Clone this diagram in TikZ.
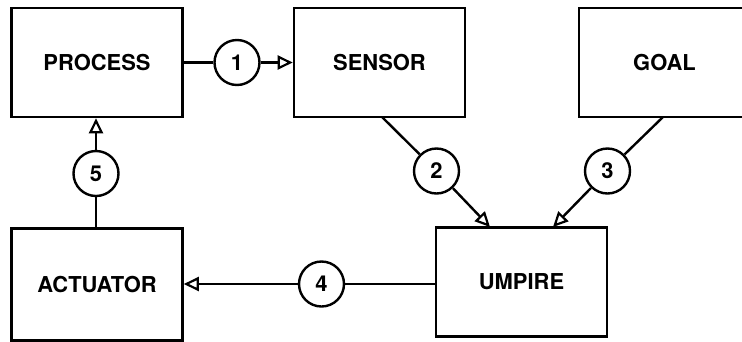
\documentclass[tikz,border=0pt]{standalone}
\usepackage{fontspec}
\setmainfont{TeX Gyre Heros}
\usetikzlibrary{arrows.meta}
\begin{document}
\begin{tikzpicture}[x=1bp,y=-1bp,
  box/.style={draw,line width=2.6bp,minimum width=171bp,minimum height=109bp,inner sep=0pt,font=\fontsize{22}{24}\selectfont\bfseries},
  num/.style={draw,circle,line width=2.4bp,minimum size=45bp,inner sep=0pt,fill=white,font=\fontsize{22}{24}\selectfont\bfseries},
  conn/.style={line width=2.4bp},
  arr/.style={conn,-{Triangle[open,length=15bp,width=14bp,line width=2.2bp]}}]
\useasboundingbox (0,0) rectangle (742,341);
\node[box] (proc) at (97,62.5) {PROCESS};
\node[box] (sens) at (379.5,62.5) {SENSOR};
\node[box] (goal) at (664.5,62.5) {GOAL};
\node[box,minimum height=112bp] (act) at (97,284.5) {ACTUATOR};
\node[box] (ump) at (521.5,282) {UMPIRE};
\node[num] (n1) at (237,62.5) {1};
\node[num] (n2) at (436.5,171) {2};
\node[num] (n3) at (607.5,171) {3};
\node[num] (n4) at (321.5,284) {4};
\node[num] (n5) at (96,173.5) {5};
\coordinate (s2) at (382,117);
\coordinate (g3) at (663,117);
\coordinate (u2) at (490,227);
\coordinate (u3) at (553,227);
\draw[conn] (proc.east |- n1) -- (n1);
\draw[arr] (n1) -- (sens.west |- n1);
\draw[conn] (s2) -- (n2);
\draw[arr] (n2) -- (u2);
\draw[conn] (g3) -- (n3);
\draw[arr] (n3) -- (u3);
\draw[conn] (ump.west |- n4) -- (n4);
\draw[arr] (n4) -- (act.east |- n4);
\draw[conn] (act.north -| n5) -- (n5);
\draw[arr] (n5) -- (proc.south -| n5);
\end{tikzpicture}
\end{document}
